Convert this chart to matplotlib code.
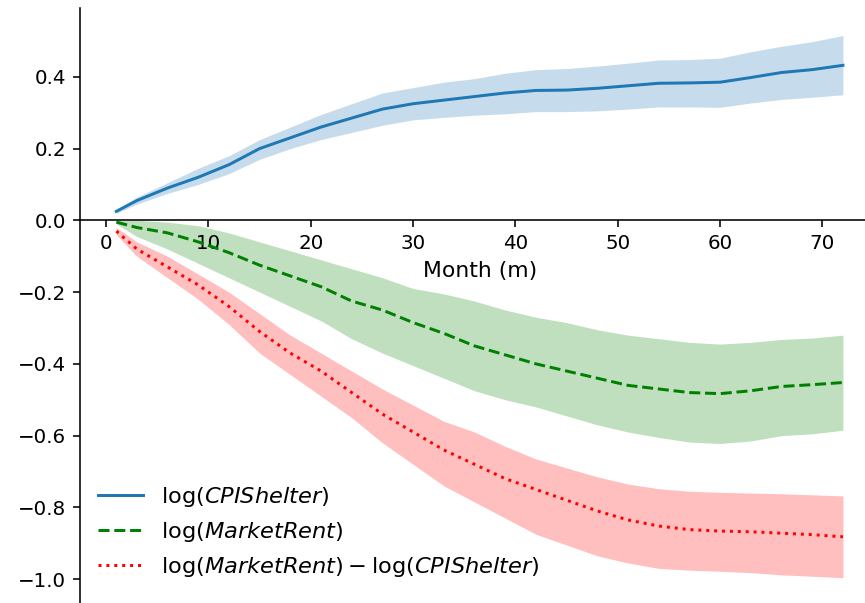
import matplotlib
matplotlib.use("Agg")
import matplotlib.pyplot as plt

# months since start
months = [1, 3, 6, 9, 12, 15, 18, 21, 24, 27, 30, 33, 36, 39, 42, 45, 48, 51, 54, 57, 60, 63, 66, 69, 72]

# log(CPI shelter) response, with band
cpi_mean = [0.025, 0.055, 0.09, 0.12, 0.155, 0.20, 0.23, 0.26, 0.285, 0.31, 0.325, 0.335, 0.345,
            0.355, 0.362, 0.363, 0.368, 0.375, 0.382, 0.383, 0.385, 0.398, 0.412, 0.42, 0.432]
cpi_hi = [0.03, 0.065, 0.105, 0.145, 0.18, 0.225, 0.26, 0.295, 0.325, 0.355, 0.37, 0.385, 0.395,
          0.41, 0.42, 0.423, 0.43, 0.438, 0.447, 0.448, 0.452, 0.47, 0.485, 0.498, 0.515]
cpi_lo = [0.02, 0.045, 0.075, 0.10, 0.13, 0.17, 0.20, 0.225, 0.245, 0.265, 0.28, 0.287, 0.293,
          0.297, 0.303, 0.303, 0.305, 0.31, 0.316, 0.316, 0.315, 0.327, 0.337, 0.343, 0.35]

# log(market rent)
rent_mean = [-0.005, -0.02, -0.035, -0.06, -0.09, -0.125, -0.155, -0.185, -0.225, -0.25, -0.285, -0.315, -0.35,
             -0.375, -0.40, -0.42, -0.44, -0.46, -0.47, -0.48, -0.483, -0.475, -0.463, -0.458, -0.452]
rent_hi = [0.0, 0.0, -0.005, -0.015, -0.035, -0.06, -0.085, -0.11, -0.135, -0.16, -0.19, -0.205, -0.225,
           -0.25, -0.27, -0.285, -0.305, -0.32, -0.33, -0.34, -0.345, -0.34, -0.332, -0.328, -0.32]
rent_lo = [-0.01, -0.045, -0.08, -0.12, -0.16, -0.20, -0.24, -0.28, -0.33, -0.37, -0.405, -0.44, -0.475,
           -0.50, -0.52, -0.545, -0.57, -0.59, -0.605, -0.618, -0.622, -0.615, -0.60, -0.595, -0.585]

# difference
diff_mean = [-0.03, -0.08, -0.13, -0.18, -0.24, -0.31, -0.37, -0.42, -0.48, -0.54, -0.59, -0.64, -0.68,
             -0.72, -0.75, -0.78, -0.81, -0.835, -0.852, -0.862, -0.866, -0.868, -0.872, -0.876, -0.882]
diff_hi = [-0.02, -0.06, -0.10, -0.15, -0.20, -0.26, -0.32, -0.37, -0.42, -0.47, -0.515, -0.56, -0.59,
           -0.63, -0.665, -0.69, -0.715, -0.735, -0.748, -0.755, -0.758, -0.76, -0.762, -0.765, -0.768]
diff_lo = [-0.04, -0.10, -0.16, -0.22, -0.29, -0.37, -0.43, -0.49, -0.55, -0.62, -0.68, -0.74, -0.785,
           -0.83, -0.875, -0.905, -0.935, -0.955, -0.97, -0.975, -0.978, -0.982, -0.988, -0.992, -0.996]

# original looks rendered at ~143 dpi
fig = plt.figure(figsize=(865 / 143, 603 / 143), dpi=143)
ax = fig.add_axes([0.0925, -0.003, 0.924, 0.989])

ax.plot(months, cpi_mean, color='C0', label=r'$\log(CPIShelter)$')
ax.fill_between(months, cpi_lo, cpi_hi, color='C0', alpha=0.25, linewidth=0)

ax.plot(months, rent_mean, color='g', linestyle='--', label=r'$\log(MarketRent)$')
ax.fill_between(months, rent_lo, rent_hi, color='g', alpha=0.25, linewidth=0)

ax.plot(months, diff_mean, color='r', linestyle=':', label=r'$\log(MarketRent) - \log(CPIShelter)$')
ax.fill_between(months, diff_lo, diff_hi, color='r', alpha=0.25, linewidth=0)

# axis through zero
ax.spines['bottom'].set_position('zero')
ax.spines['right'].set_visible(False)
ax.spines['top'].set_visible(False)
ax.set_xlabel('Month (m)', fontsize=11)

ax.legend(loc='lower left', bbox_to_anchor=(0.011, 0.028), borderaxespad=0,
          frameon=False, fontsize=11.3)

fig.savefig('out.png', dpi=143)
